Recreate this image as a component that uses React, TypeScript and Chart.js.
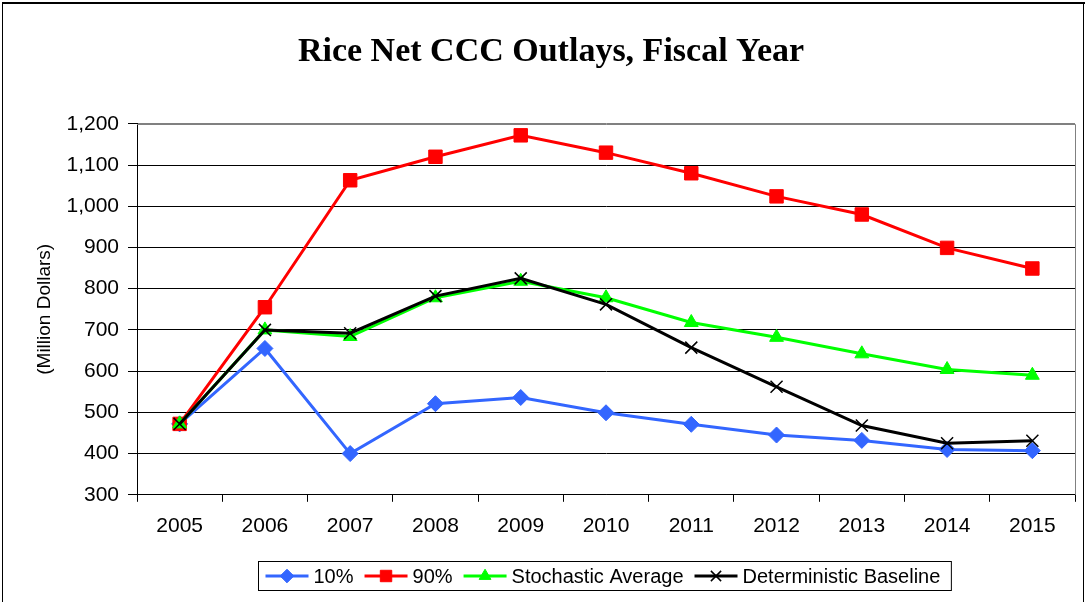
import React, { useEffect, useRef } from 'react';
import { Chart, registerables } from 'chart.js';
import { drawPoint } from 'chart.js/helpers';

Chart.register(...registerables);

const titleText = 'Rice Net CCC Outlays, Fiscal Year';
const yAxisTitle = '(Million Dollars)';
const years = ['2005', '2006', '2007', '2008', '2009', '2010', '2011', '2012', '2013', '2014', '2015'];
const p10 = [472, 655, 400, 521, 536, 499, 471, 445, 432, 410, 407];
const p90 = [472, 755, 1063, 1120, 1172, 1130, 1080, 1024, 980, 899, 849];
const stochasticAvg = [472, 700, 684, 778, 818, 778, 718, 682, 642, 604, 590];
const deterministic = [472, 700, 692, 782, 825, 762, 657, 562, 468, 425, 431];
const yMin = 300;
const yMax = 1200;
const yStep = 100;

const SANS = '"Liberation Sans", Arial, sans-serif';
const SERIF = '"Liberation Serif", "Times New Roman", serif';

const legendPlugin = {
  id: 'customLegend',
  afterDraw(chart: any) {
    const ctx = chart.ctx;
    const ds = chart.data.datasets;
    const order = [0, 1, 2, 3];
    ctx.save();
    ctx.font = `20px ${SANS}`;
    const lineLen = 43;
    const gapText = 5;
    const gapItem = 11;
    const padL = 7;
    const padR = 11;
    let total = 0;
    const widths = order.map((i) => ctx.measureText(ds[i].label).width);
    order.forEach((_, k) => {
      total += lineLen + gapText + widths[k];
      if (k < order.length - 1) total += gapItem;
    });
    const boxW = total + padL + padR;
    const cx = (chart.chartArea.left + chart.chartArea.right) / 2;
    const boxX = Math.round(cx - boxW / 2 - 2) + 0.5;
    const boxY = 561.5;
    const boxH = 29;
    ctx.strokeStyle = '#000';
    ctx.lineWidth = 1;
    ctx.strokeRect(boxX, boxY, boxW, boxH);
    let x = boxX + padL;
    const y = boxY + boxH / 2;
    order.forEach((i, k) => {
      const d = ds[i];
      ctx.strokeStyle = d.borderColor;
      ctx.lineWidth = 3;
      ctx.beginPath();
      ctx.moveTo(x, y);
      ctx.lineTo(x + lineLen, y);
      ctx.stroke();
      ctx.fillStyle = d.pointBackgroundColor;
      ctx.strokeStyle = d.pointBorderColor;
      ctx.lineWidth = d.pointBorderWidth;
      drawPoint(ctx, { pointStyle: d.pointStyle, radius: d.pointRadius * 0.85, rotation: 0, borderWidth: d.pointBorderWidth }, x + lineLen / 2, y);
      ctx.fillStyle = '#000';
      ctx.textBaseline = 'middle';
      ctx.textAlign = 'left';
      ctx.fillText(d.label, x + lineLen + gapText, y + 1);
      x += lineLen + gapText + widths[k] + gapItem;
    });
    ctx.restore();
  },
};

const framePlugin = {
  id: 'frame',
  beforeDraw(chart: any) {
    const ctx = chart.ctx;
    ctx.save();
    ctx.fillStyle = '#fff';
    ctx.fillRect(0, 0, chart.width, chart.height);
    ctx.strokeStyle = '#000';
    ctx.lineWidth = 1;
    ctx.strokeRect(2.5, 3.5, 1081, 640);
    ctx.beginPath();
    ctx.lineWidth = 2;
    ctx.moveTo(2, 3);
    ctx.lineTo(1085, 3);
    ctx.stroke();
    ctx.restore();
  },
  beforeDatasetsDraw(chart: any) {
    const { left, right, top, bottom } = chart.chartArea;
    const ctx = chart.ctx;
    ctx.save();
    ctx.strokeStyle = '#808080';
    ctx.lineWidth = 1;
    ctx.beginPath();
    ctx.moveTo(left, Math.round(top) + 0.5);
    ctx.lineTo(Math.round(right) + 0.5, Math.round(top) + 0.5);
    ctx.lineTo(Math.round(right) + 0.5, bottom);
    ctx.stroke();
    ctx.restore();
  },
};

function makeDataset(label: string, data: number[], color: string, pointStyle: string, radius: number, order: number, borderW = 1) {
  return {
    label,
    data,
    borderColor: color,
    backgroundColor: color,
    pointBackgroundColor: color,
    pointBorderColor: color,
    pointBorderWidth: borderW,
    pointStyle,
    pointRadius: radius,
    borderWidth: 3,
    tension: 0,
    order,
  };
}

export default function App() {
  const ref = useRef<HTMLCanvasElement | null>(null);
  useEffect(() => {
    document.body.style.margin = '0';
    const canvas = ref.current;
    if (!canvas) return;
    const chart = new Chart(canvas, {
      type: 'line',
      data: {
        labels: years,
        datasets: [
          makeDataset('10%', p10, '#3366FF', 'rectRot', 8, 4),
          makeDataset('90%', p90, '#FF0000', 'rect', 9.5, 3),
          makeDataset('Stochastic Average', stochasticAvg, '#00FF00', 'triangle', 8, 2),
          makeDataset('Deterministic Baseline', deterministic, '#000000', 'crossRot', 8.5, 1, 1.5),
        ] as any,
      },
      options: {
        animation: false,
        responsive: false,
        maintainAspectRatio: false,
        layout: { padding: { top: 0, left: 27, right: 13, bottom: 51 } },
        plugins: {
          legend: { display: false },
          tooltip: { enabled: false },
          title: {
            display: true,
            text: titleText,
            color: '#000',
            font: { family: SERIF, size: 34, weight: 'bold' },
            padding: { top: 32, bottom: 51 },
          },
        },
        scales: {
          x: {
            offset: true,
            grid: {
              display: true,
              drawOnChartArea: false,
              drawTicks: true,
              offset: true,
              tickLength: 7,
              tickColor: '#000',
              color: '#000',
            },
            border: { display: true, color: '#000', width: 1 },
            ticks: {
              color: '#000',
              font: { family: SANS, size: 21 },
              padding: 12,
              maxRotation: 0,
            },
          },
          y: {
            min: yMin,
            max: yMax,
            afterFit(scale: any) {
              scale.width = 110;
            },
            grid: {
              color: (c: any) => (c.tick && c.tick.value === yMax ? '#808080' : '#000'),
              lineWidth: 1,
              tickLength: 9,
              tickColor: '#000',
            },
            border: { display: true, color: '#000', width: 1 },
            ticks: {
              stepSize: yStep,
              color: '#000',
              font: { family: SANS, size: 21 },
              padding: 9,
            },
            title: {
              display: true,
              text: yAxisTitle,
              color: '#000',
              font: { family: SANS, size: 19 },
              padding: { top: 6, bottom: 0 },
            },
          },
        },
      } as any,
      plugins: [framePlugin, legendPlugin],
    });
    return () => chart.destroy();
  }, []);
  return (
    <div style={{ position: 'absolute', left: 0, top: 0, width: 1088, height: 602 }}>
      <canvas ref={ref} width={1088} height={602} style={{ display: 'block', width: 1088, height: 602 }} />
    </div>
  );
}
